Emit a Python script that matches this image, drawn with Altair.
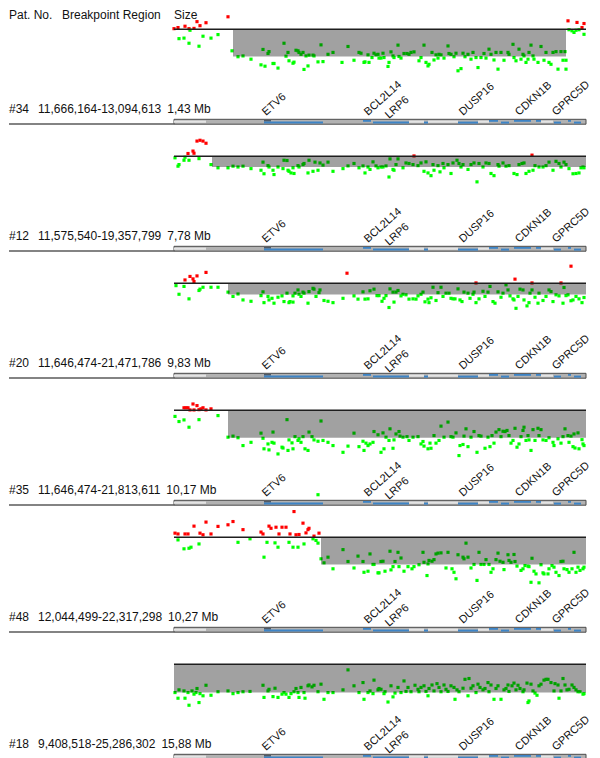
import altair as alt
import pandas as pd

FONT = "Liberation Sans, Arial, sans-serif"

# ---------------- data ----------------
patients = ["#34", "#12", "#20", "#35", "#48", "#18"]
regions = ["11,666,164-13,094,613", "11,575,540-19,357,799", "11,646,474-21,471,786",
           "11,646,474-21,813,611", "12,044,499-22,317,298", "9,408,518-25,286,302"]
sizes = ["1,43 Mb", "7,78 Mb", "9,83 Mb", "10,17 Mb", "10,27 Mb", "15,88 Mb"]

# deleted segment per patient: start / end (probe index) and mean log2 ratio
del_start = [59, 38, 54, 54, 147, 0]
del_end = [392, 412, 412, 412, 412, 412]
del_level = [-1.01, -0.40, -0.42, -1.02, -1.01, -1.05]

genes = ["ETV6", "BCL2L14", "LRP6", "DUSP16", "CDKN1B", "GPRC5D"]
gene_pos = [92, 194, 215, 289, 345, 382]

track_light = [(0, 32), (235, 250), (254, 284), (304, 315), (367, 379)]
track_dark = [(90, 97)]
track_blue_upper = [(189, 197), (315, 324), (340, 357), (362, 367), (394, 397)]
track_blue_lower = [(90, 149), (199, 235), (250, 254), (284, 304), (327, 335), (380, 387), (400, 407)]

# probes: (probe index, log2 ratio)
probes_34 = [
    (0, 0.02), (4, 0.06), (11, 0.11), (15, 0.02), (20, 0.03), (23, 0.28), (26, 0.13), (32, 0.24), (54, 0.46),
    (394, 0.31), (403, 0.25), (410, 0.21), (408, 0.06),
    (5, -0.35), (10, -0.33), (15, -0.52), (16, -0.04), (25, -0.63), (29, -0.26), (37, -0.33), (44, -0.20), (58, -0.80),
    (395, -0.02), (398, -0.06), (400, -0.12), (402, -0.04), (405, -0.02), (410, -0.19),
    (64, -1.02), (69, -0.99), (77, -1.11), (87, -1.32), (91, -1.37), (89, -0.75), (94, -0.90), (95, -0.83),
    (99, -1.27), (100, -1.27), (104, -1.44), (110, -0.52), (112, -1.00), (114, -0.86), (115, -1.17), (119, -1.26),
    (120, -1.22), (122, -0.78), (124, -0.80), (125, -0.86), (127, -0.93), (129, -0.86), (130, -1.49), (132, -0.99),
    (134, -1.36), (135, -0.96), (139, -0.96), (140, -0.99), (144, -1.21), (147, -0.58), (149, -1.20), (154, -0.93),
    (159, -0.86), (168, -1.23), (174, -0.64), (180, -1.15), (185, -0.86), (187, -0.89), (190, -1.23), (191, -1.21),
    (194, -0.95), (195, -1.23), (198, -1.05), (200, -0.89), (202, -0.95), (204, -0.93), (205, -1.07), (207, -1.07),
    (209, -0.89), (210, -1.05), (214, -1.38), (215, -1.23), (217, -0.84), (219, -0.99), (220, -1.05), (224, -0.59),
    (225, -1.01), (227, -1.07), (230, -0.90), (233, -0.90), (235, -0.93), (237, -0.86), (240, -0.84), (245, -1.17),
    (247, -1.05), (250, -0.59), (252, -1.23), (254, -1.36), (255, -1.30), (258, -0.86), (260, -1.14), (262, -0.95),
    (264, -1.07), (265, -0.93), (267, -0.95), (270, -1.07), (274, -0.62), (275, -0.90), (277, -0.93), (280, -1.02),
    (282, -0.89), (284, -1.54), (287, -1.46), (289, -0.89), (291, -1.02), (294, -0.93), (297, -1.11), (299, -0.86),
    (302, -1.05), (304, -1.42), (307, -1.05), (310, -0.90), (312, -1.07), (315, -0.74), (317, -0.93), (320, -1.14),
    (322, -0.86), (324, -1.48), (327, -0.86), (330, -1.15), (334, -0.86), (335, -0.93), (339, -0.56), (340, -1.05),
    (342, -1.17), (345, -0.74), (347, -1.11), (349, -0.93), (350, -0.99), (352, -1.23), (354, -1.11), (355, -0.86),
    (357, -0.59), (359, -0.99), (360, -1.11), (364, -1.23), (367, -0.64), (370, -1.15), (372, -0.86), (375, -1.23),
    (377, -1.30), (379, -0.86), (382, -0.83), (384, -1.48), (387, -0.83), (389, -1.15), (391, -0.83), (392, -1.48),
    (392, -1.15),
]

probes_12 = [
    (14, 0.10), (19, 0.19), (20, 0.11), (23, 0.56), (26, 0.59), (29, 0.56), (32, 0.48), (240, 0.01), (358, 0.04),
    (1, -0.06), (5, -0.31), (4, -0.37), (10, -0.15), (11, -0.04), (15, -0.15), (25, -0.09), (37, -0.31),
    (44, -0.43), (54, -0.43), (59, -0.37), (64, -0.40), (69, -0.37), (77, -0.46), (87, -0.52), (89, -0.22),
    (90, -0.65), (94, -0.35), (95, -0.40), (99, -0.52), (100, -0.68), (104, -0.40), (109, -0.46), (110, -0.15),
    (113, -0.16), (114, -0.52), (115, -0.56), (117, -0.62), (120, -0.64), (119, -0.43), (124, -0.35), (125, -0.40),
    (129, -0.31), (130, -0.27), (134, -0.62), (135, -0.15), (139, -0.56), (141, -0.22), (144, -0.52), (146, -0.25),
    (149, -0.33), (154, -0.22), (159, -0.56), (169, -0.46), (174, -0.36), (180, -0.27), (185, -0.43), (189, -0.36),
    (191, -0.62), (194, -0.40), (196, -0.49), (199, -0.21), (202, -0.36), (204, -0.43), (207, -0.40), (209, -0.40),
    (212, -0.36), (215, -0.77), (216, -0.10), (219, -0.49), (220, -0.52), (222, -0.31), (224, -0.10), (229, -0.43),
    (232, -0.25), (235, -0.27), (239, -0.31), (244, -0.35), (247, -0.25), (250, -0.56), (252, -0.21), (254, -0.62),
    (257, -0.72), (259, -0.31), (260, -0.52), (264, -0.35), (266, -0.58), (269, -0.27), (270, -0.43), (274, -0.31),
    (277, -0.64), (279, -0.25), (283, -0.15), (285, -0.27), (287, -0.40), (289, -0.31), (294, -0.49), (297, -0.31),
    (300, -0.25), (303, -0.95), (305, -0.27), (309, -0.40), (312, -0.25), (315, -0.27), (317, -0.64), (320, -0.72),
    (324, -0.31), (325, -0.37), (329, -0.25), (332, -0.37), (335, -0.35), (340, -0.64), (343, -0.68), (345, -0.31),
    (348, -0.27), (350, -0.25), (352, -0.64), (355, -0.56), (359, -0.52), (361, -0.35), (365, -0.40), (369, -0.40),
    (372, -0.35), (375, -0.22), (379, -0.52), (382, -0.19), (385, -0.27), (387, -0.40), (390, -0.22), (392, -0.31),
    (395, -0.46), (399, -0.65), (402, -0.64), (405, -0.62), (407, -0.43), (409, -0.40), (410, -0.43),
]

probes_20 = [
    (11, 0.12), (16, 0.25), (19, 0.16), (20, 0.06), (23, 0.27), (32, 0.40), (173, 0.37), (302, 0.01), (341, 0.15),
    (358, 0.01), (387, 0.01), (397, 0.63),
    (2, -0.09), (5, -0.41), (10, -0.12), (15, -0.58), (25, -0.27), (26, -0.22), (29, -0.15), (37, -0.15), (44, -0.15),
    (54, -0.33), (59, -0.49), (64, -0.40), (69, -0.62), (77, -0.67), (87, -0.46), (89, -0.32), (90, -0.72),
    (94, -0.49), (95, -0.62), (98, -0.56), (100, -0.74), (104, -0.52), (108, -0.47), (110, -0.68), (113, -0.37),
    (115, -0.72), (116, -0.68), (119, -0.70), (119, -0.47), (121, -0.37), (124, -0.25), (125, -0.41), (127, -0.49),
    (129, -0.33), (130, -0.37), (134, -0.74), (135, -0.31), (139, -0.19), (140, -0.22), (142, -0.49), (145, -0.35),
    (146, -0.25), (150, -0.64), (154, -0.67), (159, -0.72), (169, -0.56), (180, -0.47), (184, -0.59), (189, -0.32),
    (191, -0.59), (194, -0.58), (196, -0.28), (200, -0.22), (203, -0.46), (205, -0.46), (208, -0.67), (210, -0.56),
    (212, -0.46), (215, -0.90), (216, -0.21), (219, -0.33), (220, -0.70), (222, -0.33), (224, -0.27), (227, -0.47),
    (229, -0.41), (232, -0.43), (235, -0.59), (239, -0.58), (242, -0.59), (244, -0.47), (247, -0.41), (249, -0.33),
    (251, -0.69), (254, -0.59), (255, -0.72), (257, -0.54), (259, -0.15), (262, -0.64), (264, -0.35), (267, -0.15),
    (269, -0.49), (272, -0.37), (275, -0.37), (277, -0.56), (279, -0.58), (281, -0.58), (284, -0.21), (286, -0.62),
    (288, -0.68), (290, -0.33), (294, -0.37), (296, -0.56), (299, -0.41), (300, -0.33), (302, -0.72), (305, -0.58),
    (309, -0.30), (311, -0.49), (314, -0.33), (316, -0.12), (319, -0.68), (321, -0.74), (324, -0.32), (327, -0.52),
    (329, -0.37), (332, -0.06), (334, -0.25), (336, -0.47), (339, -0.58), (340, -0.62), (342, -0.93), (344, -0.49),
    (346, -0.22), (349, -0.25), (350, -0.62), (353, -0.84), (355, -0.72), (356, -0.37), (358, -0.25), (361, -0.52),
    (364, -0.74), (365, -0.37), (369, -0.64), (372, -0.49), (375, -0.25), (377, -0.31), (379, -0.68), (382, -0.43),
    (385, -0.47), (389, -0.74), (390, -0.16), (392, -0.46), (394, -0.43), (397, -0.65), (399, -0.62), (402, -0.49),
    (405, -0.58), (408, -0.72), (410, -0.53),
]

probes_35 = [
    (10, 0.09), (12, 0.09), (14, 0.09), (16, 0.01), (19, 0.23), (20, 0.01), (23, 0.17), (25, 0.02), (27, 0.05),
    (29, 0.09), (32, 0.01), (37, 0.05),
    (1, -0.23), (5, -0.42), (10, -0.36), (15, -0.63), (25, -0.35), (44, -0.20), (144, -3.13),
    (54, -1.00), (59, -0.96), (64, -1.02), (69, -1.31), (77, -1.19), (87, -0.85), (89, -1.04), (90, -1.43),
    (94, -1.25), (95, -1.47), (98, -1.19), (99, -0.81), (100, -1.22), (104, -1.62), (108, -1.37), (109, -1.40),
    (113, -0.35), (114, -1.49), (115, -1.10), (118, -1.21), (119, -1.43), (121, -0.98), (124, -1.12), (125, -1.06),
    (127, -1.19), (129, -0.98), (131, -1.43), (134, -1.49), (135, -0.81), (138, -0.98), (140, -1.10), (144, -1.15),
    (147, -0.40), (149, -1.12), (154, -1.19), (159, -1.31), (169, -1.56), (174, -1.33), (180, -0.85), (185, -1.35),
    (189, -1.15), (190, -1.49), (192, -1.22), (194, -1.31), (196, -1.25), (199, -1.19), (200, -0.79), (204, -0.91),
    (207, -1.56), (209, -0.84), (210, -1.43), (212, -1.00), (215, -1.12), (216, -0.69), (219, -1.41), (220, -1.10),
    (222, -0.88), (225, -0.79), (226, -0.96), (229, -1.00), (233, -0.98), (235, -1.12), (239, -1.00), (244, -0.98),
    (247, -1.25), (249, -1.16), (250, -1.33), (254, -1.43), (256, -1.22), (257, -1.41), (260, -0.94), (262, -1.22),
    (265, -1.12), (267, -0.59), (270, -1.00), (274, -0.44), (277, -0.98), (279, -1.00), (282, -0.84), (285, -1.68),
    (286, -1.31), (289, -1.27), (290, -0.96), (292, -0.69), (294, -1.35), (297, -1.00), (300, -0.79), (303, -1.56),
    (305, -0.94), (307, -0.96), (311, -1.41), (314, -1.00), (316, -1.35), (318, -0.94), (320, -1.22), (322, -0.81),
    (325, -0.72), (327, -0.98), (329, -0.78), (331, -0.79), (333, -0.75), (335, -0.94), (337, -1.22), (339, -1.12),
    (341, -0.67), (343, -1.37), (345, -1.25), (347, -0.98), (349, -0.75), (350, -0.63), (352, -1.12), (354, -0.94),
    (355, -1.10), (357, -1.49), (359, -0.72), (361, -1.12), (364, -0.67), (365, -0.94), (367, -0.72), (369, -1.10),
    (372, -1.12), (375, -1.02), (379, -1.19), (380, -1.31), (384, -1.06), (387, -1.22), (389, -0.98), (391, -0.69),
    (394, -0.94), (395, -1.19), (397, -0.96), (399, -1.35), (400, -0.88), (401, -1.40), (404, -0.84), (405, -1.43),
    (408, -1.09), (409, -1.25), (410, -1.31),
]

probes_48 = [
    (1, 0.15), (4, 0.12), (11, 0.12), (14, 0.12), (20, 0.41), (26, 0.15), (29, 0.09), (32, 0.56), (37, 0.12),
    (44, 0.40), (54, 0.46), (59, 0.58), (69, 0.28), (87, 0.19), (89, 0.12), (95, 0.41), (97, 0.33), (102, 0.37),
    (105, 0.12), (108, 0.37), (112, 0.37), (116, 0.12), (120, 0.95), (122, 0.09), (125, 0.10), (129, 0.52),
    (132, 0.16), (134, 0.28), (135, 0.33), (140, 0.04), (145, 0.15),
    (4, -0.10), (10, -0.43), (15, -0.41), (17, -0.37), (25, -0.25), (64, -0.19), (76, -0.06), (90, -0.74),
    (93, -0.19), (101, -0.21), (104, -0.37), (115, -0.19), (119, -0.37), (124, -0.37), (130, -0.25), (139, -0.06),
    (142, -0.12), (144, -0.22),
    (147, -0.80), (150, -0.95), (154, -0.74), (159, -1.17), (169, -0.46), (174, -0.90), (180, -1.14), (184, -0.70),
    (189, -0.90), (190, -1.30), (194, -1.26), (196, -0.62), (199, -1.01), (200, -1.01), (204, -1.32), (205, -1.32),
    (207, -0.90), (209, -0.89), (211, -1.26), (216, -0.52), (217, -1.21), (219, -1.09), (221, -0.90), (224, -0.56),
    (225, -1.09), (227, -0.77), (230, -1.26), (234, -1.09), (238, -1.17), (240, -1.09), (245, -1.02), (249, -0.56),
    (250, -0.93), (253, -1.42), (254, -0.99), (255, -0.86), (258, -0.89), (260, -0.83), (262, -0.62), (264, -0.59),
    (267, -0.58), (272, -1.14), (274, -0.56), (278, -1.17), (280, -1.30), (282, -1.54), (284, -0.65), (289, -0.74),
    (290, -0.80), (292, -0.22), (294, -0.74), (297, -1.14), (300, -1.01), (303, -1.60), (305, -0.56), (307, -1.01),
    (310, -1.01), (312, -0.83), (315, -1.01), (317, -1.30), (319, -1.17), (322, -0.83), (324, -0.59), (326, -0.89),
    (329, -0.93), (330, -1.20), (334, -0.65), (335, -0.86), (337, -0.93), (340, -0.64), (341, -0.90), (343, -1.07),
    (347, -1.23), (349, -1.17), (351, -1.05), (354, -1.07), (355, -1.09), (357, -1.67), (358, -0.78), (360, -1.26),
    (362, -1.36), (365, -1.69), (367, -1.02), (369, -1.32), (370, -1.36), (374, -1.36), (375, -1.17), (378, -1.05),
    (380, -1.11), (382, -1.30), (385, -1.42), (387, -0.90), (389, -0.89), (390, -1.17), (393, -1.20), (395, -1.30),
    (398, -1.17), (400, -0.56), (402, -1.30), (404, -1.11), (406, -1.23), (409, -1.17), (410, -1.11),
]

probes_18 = [
    (1, -1.05), (4, -1.26), (5, -0.95), (10, -0.99), (11, -1.26), (14, -1.05), (15, -1.52), (18, -0.99),
    (20, -1.11), (22, -1.05), (23, -0.90), (25, -1.42), (26, -1.09), (29, -1.17), (32, -0.78), (37, -1.15),
    (44, -1.02), (54, -0.99), (59, -1.09), (64, -1.05), (69, -1.02), (76, -1.01), (89, -0.78), (90, -1.23),
    (94, -0.99), (95, -0.93), (99, -1.20), (101, -0.89), (104, -1.23), (108, -1.11), (110, -1.05), (112, -1.11),
    (115, -1.23), (117, -1.09), (120, -1.02), (122, -0.90), (124, -1.05), (125, -1.23), (127, -0.86), (130, -1.05),
    (131, -1.26), (134, -0.80), (135, -0.77), (138, -0.84), (140, -0.78), (144, -1.02), (147, -0.74), (150, -1.30),
    (154, -1.05), (159, -1.05), (169, -0.95), (174, -0.21), (180, -0.80), (185, -1.05), (189, -0.68), (190, -1.30),
    (194, -1.05), (196, -0.99), (199, -1.09), (200, -0.59), (204, -0.95), (205, -0.90), (207, -0.93), (210, -1.09),
    (211, -1.02), (214, -1.40), (217, -0.80), (219, -1.21), (221, -1.07), (224, -0.86), (227, -1.05), (230, -0.62),
    (232, -1.01), (234, -0.86), (237, -1.02), (241, -0.78), (244, -0.93), (245, -1.02), (247, -0.86), (250, -0.80),
    (252, -1.01), (254, -1.17), (255, -0.90), (258, -0.77), (260, -0.99), (263, -0.72), (265, -0.86), (267, -1.02),
    (270, -0.77), (272, -0.93), (274, -1.01), (277, -0.80), (280, -0.86), (281, -1.30), (283, -0.95), (285, -1.02),
    (289, -0.89), (291, -0.56), (294, -1.17), (295, -0.53), (297, -0.89), (299, -0.80), (302, -1.05), (304, -0.74),
    (306, -0.86), (309, -0.95), (311, -0.90), (314, -0.68), (315, -1.02), (317, -0.77), (320, -1.30), (322, -0.90),
    (324, -0.80), (327, -1.30), (330, -0.95), (332, -0.90), (334, -0.77), (335, -1.01), (338, -0.80), (340, -0.70),
    (342, -0.95), (344, -0.78), (346, -0.90), (349, -1.02), (350, -0.95), (353, -0.70), (354, -1.42), (355, -1.36),
    (357, -0.74), (359, -0.99), (361, -1.07), (363, -1.15), (365, -0.80), (367, -0.74), (370, -0.59), (372, -0.56),
    (374, -0.56), (377, -0.68), (380, -0.99), (381, -0.72), (384, -0.77), (385, -1.26), (387, -0.99), (389, -0.53),
    (391, -0.77), (393, -0.95), (395, -0.93), (398, -0.77), (400, -0.86), (402, -0.95), (404, -1.02), (406, -1.02),
    (409, -1.11), (410, -1.09),
]

probe_sets = [probes_34, probes_12, probes_20, probes_35, probes_48, probes_18]

# ---------------- layout constants ----------------
TRACK_END = 412
PITCH = 126.6
BASE = 28.2
PX_PER_UNIT = 27.0
TEXT_X = -165
REGION_X = -136


def seg_df(segs):
    return pd.DataFrame({"s": [a for a, b in segs], "e": [b for a, b in segs]})


def text_layer(label, x, y, baseline="alphabetic"):
    return alt.Chart(pd.DataFrame({"t": [label]})).mark_text(
        align="left", baseline=baseline, fontSize=12, font=FONT, color="#111111"
    ).encode(x=alt.value(x), y=alt.value(y), text="t:N")


def panel(i):
    cut = 8 if i == 0 else 0
    bottom = 124.0 if i == 5 else PITCH
    h = bottom - cut
    xs = alt.Scale(domain=[0, TRACK_END], nice=False, zero=False)
    ys = alt.Scale(domain=[(BASE - bottom) / PX_PER_UNIT, (BASE - cut) / PX_PER_UNIT], nice=False, zero=False)

    def Y(local):
        return alt.value(local - cut)

    pts = pd.DataFrame(probe_sets[i], columns=["x", "v"])
    pts["c"] = ["gain" if v > 0 else "loss" for v in pts["v"]]

    dots = alt.Chart(pts).mark_square(size=10, opacity=1).encode(
        x=alt.X("x:Q", scale=xs, axis=None),
        y=alt.Y("v:Q", scale=ys, axis=None),
        color=alt.Color("c:N", scale=alt.Scale(domain=["gain", "loss"], range=["#ff0000", "#00ff00"]), legend=None),
    )

    seg = pd.DataFrame({"s": [del_start[i]], "e": [del_end[i]], "lo": [del_level[i]], "z": [0.0]})
    rect = alt.Chart(seg).mark_rect(color="#000000", opacity=0.37).encode(
        x=alt.X("s:Q", scale=xs, axis=None), x2="e:Q",
        y=alt.Y("z:Q", scale=ys, axis=None), y2="lo:Q",
    )

    base_df = pd.DataFrame({"s": [0], "e": [TRACK_END], "z": [0.0]})
    baseline = alt.Chart(base_df).mark_rule(color="#1e1e1e", strokeWidth=1.6).encode(
        x=alt.X("s:Q", scale=xs, axis=None), x2="e:Q",
        y=alt.Y("z:Q", scale=ys, axis=None),
    )

    # gene track
    track_bg = alt.Chart(base_df).mark_rect(fill="#b2b2b2", stroke="#4a4a4a", strokeWidth=1).encode(
        x=alt.X("s:Q", scale=xs, axis=None), x2="e:Q", y=Y(118.3), y2=Y(123.2))
    track_l = alt.Chart(seg_df(track_light)).mark_rect(fill="#e4e4e4").encode(
        x=alt.X("s:Q", scale=xs, axis=None), x2="e:Q", y=Y(119.6), y2=Y(121.8))
    track_d = alt.Chart(seg_df(track_dark)).mark_rect(fill="#505a66").encode(
        x=alt.X("s:Q", scale=xs, axis=None), x2="e:Q", y=Y(119.0), y2=Y(120.6))
    track_bu = alt.Chart(seg_df(track_blue_upper)).mark_rect(fill="#3d84c6").encode(
        x=alt.X("s:Q", scale=xs, axis=None), x2="e:Q", y=Y(119.0), y2=Y(120.8))
    track_bl = alt.Chart(seg_df(track_blue_lower)).mark_rect(fill="#3d84c6").encode(
        x=alt.X("s:Q", scale=xs, axis=None), x2="e:Q", y=Y(120.6), y2=Y(122.6))

    sep = alt.Chart(pd.DataFrame({"k": [0]})).mark_rule(color="#5a5a5a", strokeWidth=1.6).encode(
        x=alt.value(TEXT_X), x2=alt.value(0), y=Y(123.0))

    gdf = pd.DataFrame({"gene": genes, "x": gene_pos})
    glab_main = alt.Chart(gdf[gdf.gene != "LRP6"]).mark_text(
        angle=318, align="left", baseline="alphabetic", fontSize=11, font=FONT, color="#111111"
    ).encode(x=alt.X("x:Q", scale=xs, axis=None), y=Y(115.0), text="gene:N")
    glab_low = alt.Chart(gdf[gdf.gene == "LRP6"]).mark_text(
        angle=318, align="left", baseline="alphabetic", fontSize=11, font=FONT, color="#111111"
    ).encode(x=alt.X("x:Q", scale=xs, axis=None), y=Y(118.0), text="gene:N")

    layers = [dots, rect, baseline, track_bg, track_l, track_d, track_bu, track_bl, sep,
              glab_main, glab_low,
              text_layer(patients[i], TEXT_X, 112.0 - cut),
              text_layer(regions[i] + "\u2002" + sizes[i], REGION_X, 112.0 - cut)]

    if i == 0:
        for label, xpos in [("Pat. No.", TEXT_X), ("Breakpoint Region", -112), ("Size", 0)]:
            layers.append(text_layer(label, xpos, 0.5, baseline="top"))

    return alt.layer(*layers).properties(width=TRACK_END, height=h)


chart = alt.vconcat(*[panel(i) for i in range(6)], spacing=0).resolve_scale(
    x="independent", y="independent"
).properties(
    padding={"left": 0, "top": 0, "bottom": 0, "right": 0}
).configure_view(stroke=None)

chart.save("out.html", embed_options={"renderer": "svg", "actions": False})
